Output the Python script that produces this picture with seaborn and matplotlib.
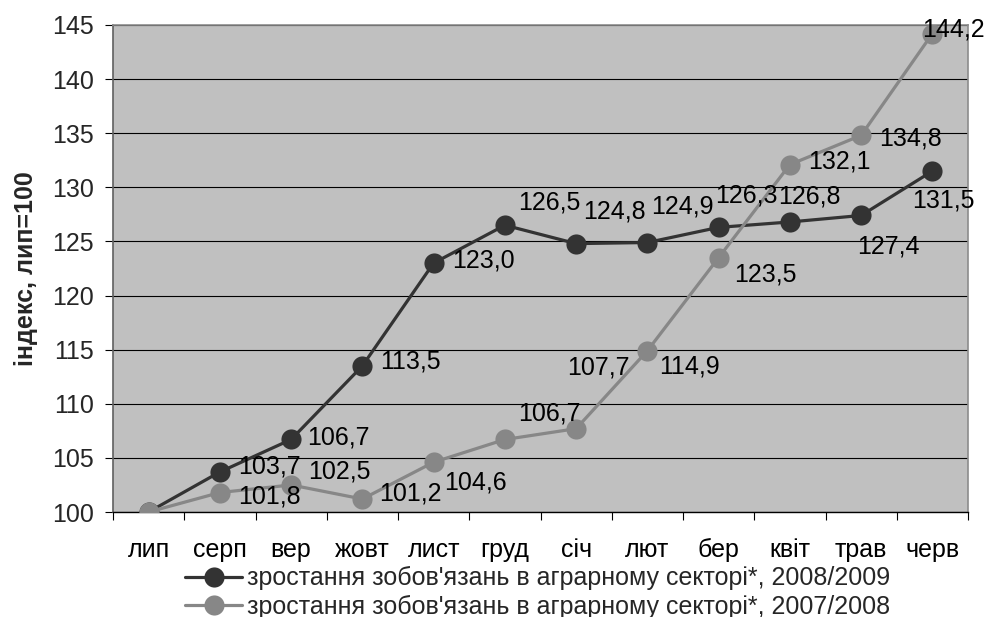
import matplotlib
matplotlib.use("Agg")
import matplotlib.pyplot as plt
import seaborn as sns
import pandas as pd
from matplotlib.ticker import FixedLocator, MultipleLocator

months = ["лип", "серп", "вер", "жовт", "лист", "груд", "січ", "лют", "бер", "квіт", "трав", "черв"]
series_2008 = [100.0, 103.7, 106.7, 113.5, 123.0, 126.5, 124.8, 124.9, 126.3, 126.8, 127.4, 131.5]
series_2007 = [100.0, 101.8, 102.5, 101.2, 104.6, 106.7, 107.7, 114.9, 123.5, 132.1, 134.8, 144.2]
name_2008 = "зростання зобов'язань в аграрному секторі*, 2008/2009"
name_2007 = "зростання зобов'язань в аграрному секторі*, 2007/2008"
y_label = "індекс, лип=100"

# label offsets (pixels) for data labels, first point unlabeled
off_2008 = [None, (50, 5), (47, 2), (48, 4), (50, 3), (44, 23), (38, 32), (35, 36), (28, 32), (20, 25), (27, -31), (11, -29)]
off_2007 = [None, (50, -4), (48, 13), (48, 6), (42, -20), (44, 26), (22, 61), (42, -16), (47, -17), (50, 3), (49, -3), (21, 4)]

sns.set_theme(style="white")
plt.rcParams['font.family'] = ['Liberation Sans', 'DejaVu Sans']
FS = 18

df = pd.DataFrame({
    "month": months * 2,
    "value": series_2008 + series_2007,
    "series": [name_2008] * len(months) + [name_2007] * len(months),
})

fig = plt.figure(figsize=(9.84, 6.17), dpi=100)
ax = fig.add_axes([113/984, 1-512/617, (968-113)/984, (512-25)/617])
ax.set_facecolor("#C0C0C0")

palette = {name_2008: "#333333", name_2007: "#878787"}
sns.lineplot(data=df, x="month", y="value", hue="series", hue_order=[name_2008, name_2007],
             palette=palette, marker="o", markersize=14.5, markeredgewidth=0,
             linewidth=2.3, sort=False, ax=ax, zorder=3)

ax.set_xlim(-0.5, len(months) - 0.5)
ax.set_ylim(100, 145)
ax.yaxis.set_major_locator(MultipleLocator(5))
ax.grid(axis="y", color="black", linewidth=0.8)
ax.set_axisbelow(True)

ax.set_xticks(range(len(months)))
ax.set_xticklabels(months)
ax.xaxis.set_minor_locator(FixedLocator([i + 0.5 for i in range(-1, len(months))]))
ax.tick_params(axis="x", which="major", length=0, pad=19, labelsize=FS, colors="black")
ax.tick_params(axis="x", which="minor", length=5.5, width=0.8, direction="out", color="black", bottom=True)
ax.tick_params(axis="y", which="major", length=6, width=0.8, direction="out", pad=8, labelsize=FS, color="black", left=True)

for s in ["top", "right"]:
    ax.spines[s].set_color("#8C8C8C")
    ax.spines[s].set_linewidth(1.2)
ax.spines["left"].set_color("#606060")
ax.spines["left"].set_linewidth(1.2)
ax.spines["bottom"].set_color("black")
ax.spines["bottom"].set_linewidth(1.0)

ax.set_xlabel("")
ax.set_ylabel(y_label, fontsize=FS, fontweight="bold", labelpad=10)

def fmt(v):
    return f"{v:.1f}".replace(".", ",")

for vals, offs in [(series_2008, off_2008), (series_2007, off_2007)]:
    for i, (v, o) in enumerate(zip(vals, offs)):
        if o is None:
            continue
        ax.annotate(fmt(v), xy=(i, v), xytext=o, textcoords="offset pixels",
                    ha="center", va="center", fontsize=FS, color="black", zorder=5,
                    annotation_clip=False)

ax.legend(loc="center left", bbox_to_anchor=(185/984, 1-592.5/617), bbox_transform=fig.transFigure,
          frameon=False, fontsize=FS, handlelength=2.28, handletextpad=0.2, labelspacing=0.17,
          borderpad=0, borderaxespad=0, ncol=1)

fig.savefig("out.png", dpi=100)
